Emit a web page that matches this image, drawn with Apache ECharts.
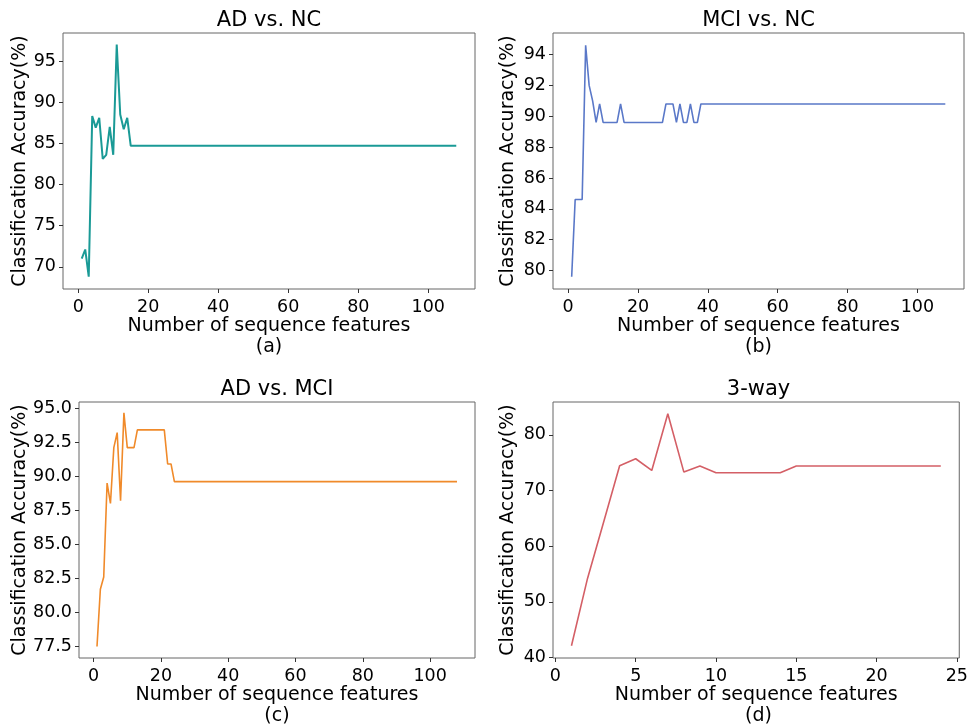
<!DOCTYPE html>
<html>
<head>
<meta charset="utf-8">
<script src="https://cdn.jsdelivr.net/npm/echarts@6/dist/echarts.min.js"></script>
<style>
  html, body { margin: 0; padding: 0; background: #fff; }
  #main { width: 971px; height: 725px; }
</style>
</head>
<body>
<div id="main"></div>
<script>
// (a) AD vs. NC
const xA = [1, 2, 3, 4, 5, 6, 7, 8, 9, 10, 11, 12, 13, 14, 15, 108];
const yA = [71.0, 72.1, 68.8, 88.3, 86.9, 88.1, 83.1, 83.6, 87.0, 83.6, 97.0, 88.5, 86.7, 88.1, 84.7, 84.7];

// (b) MCI vs. NC
const xB = [1, 2, 3, 4, 5, 6, 7, 8, 9, 10, 11, 12, 13, 14, 15, 16, 17, 18, 19, 20,
  21, 22, 23, 24, 25, 26, 27, 28, 29, 30, 31, 32, 33, 34, 35, 36, 37, 38, 108];
const yB = [79.6, 84.6, 84.6, 84.6, 94.6, 92.0, 91.0, 89.6, 90.8, 89.6, 89.6, 89.6, 89.6, 89.6, 90.8, 89.6, 89.6, 89.6, 89.6, 89.6,
  89.6, 89.6, 89.6, 89.6, 89.6, 89.6, 89.6, 90.8, 90.8, 90.8, 89.6, 90.8, 89.6, 89.6, 90.8, 89.6, 89.6, 90.8, 90.8];

// (c) AD vs. MCI
const xC = [1, 2, 3, 4, 5, 6, 7, 8, 9, 10, 11, 12, 13, 14, 15, 16, 17, 18, 19, 20, 21, 22, 23, 24, 108];
const yC = [77.5, 81.7, 82.6, 89.5, 88.0, 92.1, 93.2, 88.2, 94.65, 92.1, 92.1, 92.1, 93.4, 93.4, 93.4, 93.4, 93.4, 93.4, 93.4, 93.4, 93.4, 90.9, 90.9, 89.6, 89.6];

// (d) 3-way
const xD = [1, 2, 3, 4, 5, 6, 7, 8, 9, 10, 11, 12, 13, 14, 15, 16, 17, 18, 19, 20, 21, 22, 23, 24];
const yD = [42.1, 54.2, 64.3, 74.45, 75.7, 73.6, 83.8, 73.3, 74.4, 73.2, 73.2, 73.2, 73.2, 73.2, 74.4, 74.4, 74.4, 74.4, 74.4, 74.4, 74.4, 74.4, 74.4, 74.4];

const titles = ['AD vs. NC', 'MCI vs. NC', 'AD vs. MCI', '3-way'];
const subLabels = ['(a)', '(b)', '(c)', '(d)'];
const xTicks = [[0, 20, 40, 60, 80, 100], [0, 20, 40, 60, 80, 100], [0, 20, 40, 60, 80, 100], [0, 5, 10, 15, 20, 25]];
const yTicks = [[70, 75, 80, 85, 90, 95], [80, 82, 84, 86, 88, 90, 92, 94],
  [77.5, 80, 82.5, 85, 87.5, 90, 92.5, 95], [40, 50, 60, 70, 80]];

const FONT = 'DejaVu Sans';
const colors = ['#1a9a96', '#5a78c8', '#f08a2a', '#d45f66'];
const lineWidths = [2, 1.6, 1.6, 1.6];
const xRanges = [[-4.35, 113.35], [-4.35, 113.35], [-4.35, 113.35], [-0.15, 25.15]];
const yRanges = [[67.3, 98.4], [78.8, 95.4], [76.65, 95.45], [39.9, 85.9]];
const grids = [
  {left: 63, top: 33, width: 412, height: 256},
  {left: 553, top: 33, width: 411, height: 256},
  {left: 79, top: 402, width: 396, height: 256},
  {left: 553, top: 402, width: 411, height: 256}
];
const yNameGaps = [32, 35, 48, 35];
const xs = [xA, xB, xC, xD];
const ys = [yA, yB, yC, yD];

let chart = echarts.init(document.getElementById('main'), null, {renderer: 'canvas'});

let gridList = [], xAxes = [], yAxes = [], seriesList = [], graphics = [];
for (let i = 0; i < 4; i++) {
  let g = grids[i];
  gridList.push({
    left: g.left, top: g.top, width: g.width, height: g.height,
    show: true, borderColor: '#666', borderWidth: 1, backgroundColor: '#fff'
  });
  xAxes.push({
    type: 'value', gridIndex: i,
    min: xRanges[i][0], max: xRanges[i][1],
    splitLine: {show: false},
    axisLine: {show: false, onZero: false},
    axisTick: {show: true, length: 4, lineStyle: {color: '#333'}, customValues: xTicks[i]},
    axisLabel: {customValues: xTicks[i], color: '#000', fontFamily: FONT, fontSize: 17.5, margin: 9},
    name: 'Number of sequence features',
    nameLocation: 'middle', nameGap: 26,
    nameTextStyle: {color: '#000', fontFamily: FONT, fontSize: 19}
  });
  yAxes.push({
    type: 'value', gridIndex: i,
    min: yRanges[i][0], max: yRanges[i][1],
    splitLine: {show: false},
    axisLine: {show: false, onZero: false},
    axisTick: {show: true, length: 4, lineStyle: {color: '#333'}, customValues: yTicks[i]},
    axisLabel: {
      customValues: yTicks[i], color: '#000', fontFamily: FONT, fontSize: 17.5, margin: 7,
      formatter: i === 2 ? function (v) { return v.toFixed(1); } : function (v) { return String(v); }
    },
    name: 'Classification Accuracy(%)',
    nameLocation: 'middle', nameGap: yNameGaps[i],
    nameTextStyle: {color: '#000', fontFamily: FONT, fontSize: 19}
  });
  let pts = [];
  for (let k = 0; k < xs[i].length; k++) {
    pts.push([xs[i][k], ys[i][k]]);
  }
  seriesList.push({
    type: 'line', xAxisIndex: i, yAxisIndex: i,
    data: pts, showSymbol: false, silent: true,
    lineStyle: {color: colors[i], width: lineWidths[i]},
    animation: false
  });
  let cx = g.left + g.width / 2;
  graphics.push({
    type: 'text', x: cx, y: g.top - 12,
    style: {text: titles[i], fill: '#000', font: '21px "' + FONT + '"', align: 'center', verticalAlign: 'middle'}
  });
  graphics.push({
    type: 'text', x: cx, y: g.top + g.height + 58,
    style: {text: subLabels[i], fill: '#000', font: '19px "' + FONT + '"', align: 'center', verticalAlign: 'middle'}
  });
}

let option = {
  backgroundColor: '#fff',
  animation: false,
  grid: gridList,
  xAxis: xAxes,
  yAxis: yAxes,
  series: seriesList,
  graphic: graphics
};
chart.setOption(option);
</script>
</body>
</html>
